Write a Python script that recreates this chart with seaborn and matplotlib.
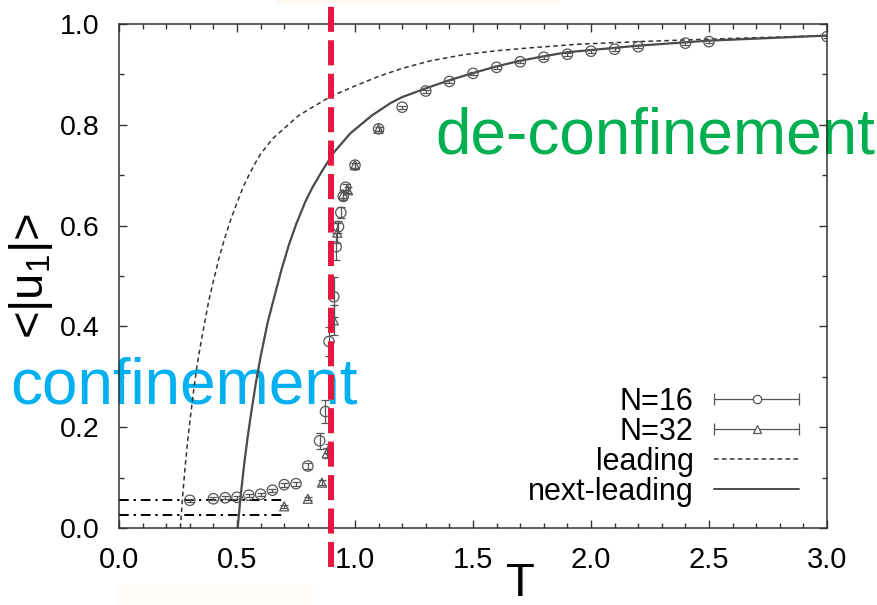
import numpy as np
import pandas as pd
import matplotlib
matplotlib.use("Agg")
import matplotlib.pyplot as plt
import seaborn as sns
from matplotlib.lines import Line2D
from matplotlib.legend_handler import HandlerLine2D
from matplotlib.ticker import MultipleLocator, FixedLocator
from matplotlib.patches import Rectangle

# ---------------- data ----------------
n16_T = [0.30, 0.40, 0.45, 0.50, 0.55, 0.60, 0.65, 0.70, 0.75, 0.80, 0.85, 0.875,
         0.89, 0.91, 0.92, 0.93, 0.94, 0.95, 0.96, 1.00, 1.10, 1.20, 1.30, 1.40,
         1.50, 1.60, 1.70, 1.80, 1.90, 2.00, 2.10, 2.20, 2.40, 2.50, 3.00]
n16_u = [0.055, 0.058, 0.060, 0.061, 0.065, 0.067, 0.075, 0.086, 0.088, 0.123, 0.173, 0.231,
         0.370, 0.459, 0.558, 0.598, 0.626, 0.658, 0.676, 0.720, 0.792, 0.835, 0.867, 0.886,
         0.902, 0.914, 0.925, 0.934, 0.940, 0.946, 0.950, 0.955, 0.962, 0.965, 0.975]
n16_err = [0.003, 0.003, 0.003, 0.003, 0.003, 0.003, 0.003, 0.004, 0.004, 0.006, 0.016, 0.022,
           0.028, 0.040, 0.027, 0.012, 0.010, 0.008, 0.006, 0.005, 0.004, 0.003, 0.003, 0.003,
           0.003, 0.003, 0.003, 0.003, 0.003, 0.003, 0.003, 0.003, 0.003, 0.003, 0.003]

n32_T = [0.70, 0.80, 0.86, 0.88, 0.89, 0.91, 0.925, 0.95, 0.97, 1.00, 1.10]
n32_u = [0.043, 0.058, 0.090, 0.148, 0.157, 0.412, 0.586, 0.662, 0.670, 0.720, 0.792]
n32_err = [0.003, 0.003, 0.005, 0.010, 0.010, 0.030, 0.020, 0.008, 0.006, 0.005, 0.004]

lead_T = [0.26, 0.27, 0.28, 0.29, 0.30, 0.315, 0.33, 0.345, 0.36, 0.38, 0.40, 0.425, 0.45,
          0.475, 0.50, 0.525, 0.55, 0.575, 0.60, 0.65, 0.70, 0.76, 0.82, 0.90, 1.00, 1.10,
          1.20, 1.32, 1.46, 1.60, 1.75, 1.95, 2.20, 2.50, 3.00]
lead_u = [0.000, 0.065, 0.120, 0.168, 0.210, 0.268, 0.320, 0.362, 0.400, 0.450, 0.490, 0.538, 0.578,
          0.614, 0.645, 0.675, 0.700, 0.722, 0.742, 0.772, 0.793, 0.818, 0.835, 0.857, 0.877, 0.896,
          0.912, 0.927, 0.939, 0.947, 0.953, 0.960, 0.965, 0.970, 0.977]

nlead_T = [0.503, 0.515, 0.53, 0.545, 0.56, 0.58, 0.60, 0.63, 0.66, 0.69, 0.72, 0.75, 0.79,
           0.82, 0.86, 0.91, 0.98, 1.07, 1.15, 1.20, 1.31, 1.41, 1.51, 1.60, 1.70, 1.80, 1.90,
           2.20, 2.50, 3.00]
nlead_u = [0.000, 0.062, 0.125, 0.180, 0.228, 0.288, 0.340, 0.408, 0.462, 0.515, 0.562, 0.602, 0.648,
           0.676, 0.708, 0.745, 0.783, 0.818, 0.843, 0.855, 0.874, 0.890, 0.904, 0.916, 0.927, 0.936,
           0.944, 0.957, 0.967, 0.977]

ref_levels = [0.055, 0.026]
ref_T_range = [0.0, 0.69]
T_c = 0.9

x_ticks = [0.0, 0.5, 1.0, 1.5, 2.0, 2.5, 3.0]
y_ticks = [0.0, 0.2, 0.4, 0.6, 0.8, 1.0]
legend_labels = ["N=16", "N=32", "leading", "next-leading"]
region_labels = ["de-confinement", "confinement"]

# ---------------- style ----------------
sns.set_theme(style="ticks")
plt.rcParams["font.family"] = ["Liberation Sans", "DejaVu Sans"]
plt.rcParams["mathtext.default"] = "regular"

GRAY = "#555555"
DARK = "#333333"

fig = plt.figure(figsize=(8.77, 6.05), dpi=100)
fig.patch.set_facecolor("white")
ax = fig.add_axes([119 / 877, 1 - 528 / 605, (827 - 119) / 877, (528 - 24) / 605])
ax.set_facecolor("white")

# faint background smudges of the original slide
fig.patches.append(Rectangle((118 / 877, 0), 195 / 877, 20 / 605, transform=fig.transFigure,
                             facecolor="#fffcf7", edgecolor="none", zorder=0))
fig.patches.append(Rectangle((275 / 877, 1 - 3 / 605), 285 / 877, 3 / 605, transform=fig.transFigure,
                             facecolor="#fff8f0", edgecolor="none", zorder=0))

# reference dash-dot levels
for lvl in ref_levels:
    ax.plot(ref_T_range, [lvl, lvl], color="black", lw=1.4,
            linestyle=(0, (5, 2.5, 1.2, 2.5)), zorder=2)

# theory curves
df_lead = pd.DataFrame({"T": lead_T, "u": lead_u})
df_nlead = pd.DataFrame({"T": nlead_T, "u": nlead_u})
sns.lineplot(data=df_lead, x="T", y="u", ax=ax, color=DARK, lw=1.1,
             linestyle=(0, (3, 2.2)), sort=False, estimator=None, zorder=2)
sns.lineplot(data=df_nlead, x="T", y="u", ax=ax, color="#4a4a4a", lw=1.6,
             sort=False, estimator=None, zorder=2)

# data with error bars
ax.errorbar(n16_T, n16_u, yerr=n16_err, fmt="none", ecolor=GRAY, elinewidth=0.9,
            capsize=3, capthick=0.9, zorder=3)
ax.errorbar(n32_T, n32_u, yerr=n32_err, fmt="none", ecolor=GRAY, elinewidth=0.9,
            capsize=3, capthick=0.9, zorder=3)
sns.scatterplot(x=n16_T, y=n16_u, ax=ax, marker="o", s=56, facecolor="none",
                edgecolor=GRAY, linewidth=0.9, zorder=4)
sns.scatterplot(x=n32_T, y=n32_u, ax=ax, marker="^", s=42, facecolor="none",
                edgecolor=GRAY, linewidth=0.9, zorder=4)

# axes
ax.set_xlim(0, 3.0)
ax.set_ylim(0, 1.0)
ax.xaxis.set_major_locator(FixedLocator(x_ticks))
ax.yaxis.set_major_locator(FixedLocator(y_ticks))
ax.set_xticklabels([f"{v:.1f}" for v in x_ticks])
ax.set_yticklabels([f"{v:.1f}" for v in y_ticks])
ax.xaxis.set_minor_locator(MultipleLocator(0.1))
ax.yaxis.set_minor_locator(MultipleLocator(0.1))
ax.tick_params(which="both", direction="in", top=True, right=True, color=DARK, width=1.0)
ax.tick_params(which="major", length=6)
ax.tick_params(which="minor", length=3.5)
ax.tick_params(axis="x", which="major", labelsize=21, pad=13, labelcolor="black")
ax.tick_params(axis="y", which="major", labelsize=20.5, pad=14, labelcolor="black")
for sp in ax.spines.values():
    sp.set_visible(True)
    sp.set_color(DARK)
    sp.set_linewidth(1.1)
    sp.set_zorder(2.5)

ax.set_xlabel("T", fontsize=34, color="black")
ax.xaxis.set_label_coords((520 - 119) / 708, (528 - 562) / 504)
ax.set_ylabel("<|u$_{1}$|>", fontsize=34, color="black")
ax.yaxis.set_label_coords((55 - 119) / 708, 0.5)

# legend (gnuplot-like, text right aligned, samples on the right)
h16_bar = Line2D([], [], color=GRAY, lw=0.9, marker="|", markersize=8, markeredgewidth=0.9)
h16_mk = Line2D([], [], ls="none", marker="o", mfc="white", mec=GRAY, ms=6, mew=0.9)
h32_bar = Line2D([], [], color=GRAY, lw=0.9, marker="|", markersize=8, markeredgewidth=0.9)
h32_mk = Line2D([], [], ls="none", marker="^", mfc="white", mec=GRAY, ms=5.5, mew=0.9)
h_lead = Line2D([], [], color=DARK, lw=1.1, linestyle=(0, (3, 2.2)))
h_nlead = Line2D([], [], color="#4a4a4a", lw=1.4)
leg = ax.legend([(h16_bar, h16_mk), (h32_bar, h32_mk), h_lead, h_nlead], legend_labels,
                handler_map={h16_mk: HandlerLine2D(numpoints=1), h32_mk: HandlerLine2D(numpoints=1)},
                loc="lower right", bbox_to_anchor=(0.974, 0.042), frameon=False,
                markerfirst=False, numpoints=2, handlelength=3.4, handletextpad=0.36,
                labelspacing=0.0, borderpad=0, borderaxespad=0, fontsize=22)
for t in leg.get_texts():
    t.set_color("black")

# region labels (behind curves and frame)
ax.text(435 / 877, 1 - 153 / 605, region_labels[0], transform=fig.transFigure, color="#00b050",
        fontsize=46, ha="left", va="baseline", zorder=1, clip_on=False)
ax.text(10 / 877, 1 - 403 / 605, region_labels[1], transform=fig.transFigure, color="#00b0f0",
        fontsize=46, ha="left", va="baseline", zorder=1, clip_on=False)

# critical temperature marker
ax.axvline(T_c, ymin=-0.078, ymax=1.06, color="#e91640", lw=4.3,
           linestyle=(0, (4.2, 1.4)), clip_on=False, zorder=6)

fig.savefig("out.png", dpi=100, facecolor="white")
